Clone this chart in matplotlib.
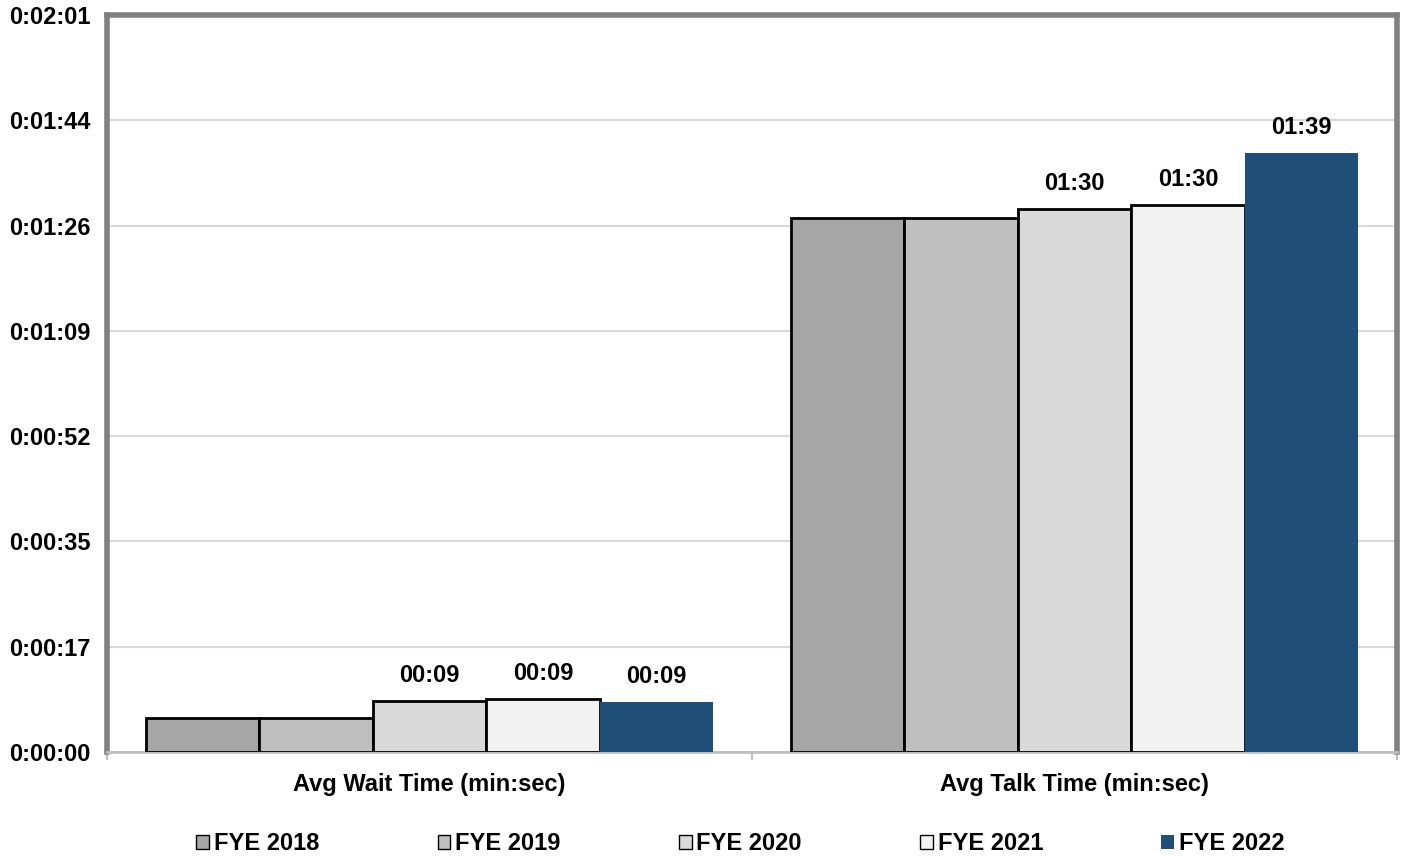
import matplotlib
matplotlib.use("Agg")
import matplotlib.pyplot as plt
import numpy as np
from matplotlib.ticker import FixedLocator

plt.rcParams['font.family'] = ['Liberation Sans', 'DejaVu Sans']
plt.rcParams['font.weight'] = 'bold'

# data (seconds)
categories = ['Avg Wait Time (min:sec)', 'Avg Talk Time (min:sec)']
years = ['FYE 2018', 'FYE 2019', 'FYE 2020', 'FYE 2021', 'FYE 2022']
wait_secs = [5.6, 5.6, 8.4, 8.7, 8.2]
talk_secs = [87.6, 87.6, 89.1, 89.8, 98.3]
wait_labels = ['', '', '00:09', '00:09', '00:09']
talk_labels = ['', '', '01:30', '01:30', '01:39']
ytick_secs = [0, 17.28, 34.56, 51.84, 69.12, 86.4, 103.68, 120.96]

colors = ['#A6A6A6', '#BFBFBF', '#D9D9D9', '#F2F2F2', '#1F4E79']
edges = ['black', 'black', 'black', 'black', 'none']


def fmt_hms(s):
    s = int(round(s))
    return '%d:%02d:%02d' % (s // 3600, (s % 3600) // 60, s % 60)


fig = plt.figure(figsize=(14.05, 8.57), dpi=100)
ax = fig.add_axes([107 / 1405, 105 / 857, 1290 / 1405, 737 / 857])

x = np.arange(len(categories))
w = 0.176
for i, yr in enumerate(years):
    vals = [wait_secs[i], talk_secs[i]]
    labs = [wait_labels[i], talk_labels[i]]
    pos = x - 2 * w + i * w
    ax.bar(pos, vals, width=w, color=colors[i], edgecolor=edges[i],
           linewidth=2 if edges[i] != 'none' else 0, label=yr, zorder=3)
    for px, v, lb in zip(pos, vals, labs):
        if lb:
            ax.annotate(lb, (px, v), xytext=(0, 10), textcoords='offset points',
                        ha='center', va='bottom', fontsize=17, fontweight='bold')

ax.set_xlim(-0.5, 1.5)
ax.set_ylim(0, 120.96)
ax.set_yticks(ytick_secs)
ax.set_yticklabels([fmt_hms(s) for s in ytick_secs], fontsize=17, fontweight='bold')
ax.tick_params(axis='y', length=0, pad=12)
ax.yaxis.grid(True, color='#D9D9D9', linewidth=1.5, zorder=0)
ax.set_axisbelow(True)

ax.set_xticks(x)
ax.set_xticklabels(categories, fontsize=17, fontweight='bold')
ax.tick_params(axis='x', length=0, pad=15)
ax.xaxis.set_minor_locator(FixedLocator([-0.5, 0.5, 1.5]))
ax.tick_params(axis='x', which='minor', length=6, color='#BFBFBF', width=1.5)

for side in ['left', 'top', 'right']:
    ax.spines[side].set_color('#808080')
    ax.spines[side].set_linewidth(4)
ax.spines['bottom'].set_color('#BFBFBF')
ax.spines['bottom'].set_linewidth(2)

leg = fig.legend(loc='center', bbox_to_anchor=(0.527, 1 - 844 / 857), ncol=5,
                 frameon=False, fontsize=17, handlelength=0.55, handleheight=0.55,
                 handletextpad=0.2, columnspacing=5.0)
for t in leg.get_texts():
    t.set_fontweight('bold')
for p in leg.get_patches():
    p.set_linewidth(1)

fig.savefig('out.png', dpi=100)
